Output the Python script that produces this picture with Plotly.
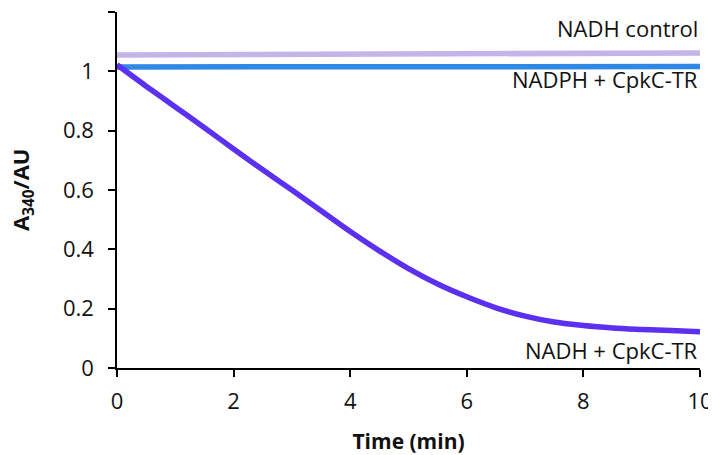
import plotly.graph_objects as go

# Data
time_min = [0, 0.5, 1, 1.5, 2, 2.5, 3, 3.5, 4, 4.5, 5, 5.5, 6, 6.5, 7, 7.5, 8, 8.5, 9, 9.5, 10]
nadh_cpkc = [1.022, 0.95, 0.88, 0.81, 0.738, 0.668, 0.6, 0.53, 0.46, 0.395, 0.335,
             0.283, 0.24, 0.203, 0.175, 0.155, 0.143, 0.135, 0.13, 0.126, 0.122]
control_x = [0, 10]
nadh_control = [1.055, 1.062]
nadph_cpkc = [1.015, 1.016]

x_ticks = [0, 2, 4, 6, 8, 10]
y_ticks = [0, 0.2, 0.4, 0.6, 0.8, 1.0, 1.2]
y_tick_text = ["0", "0.2", "0.4", "0.6", "0.8", "1", "1.2"]

labels = ["NADH control", "NADPH + CpkC-TR", "NADH + CpkC-TR"]
label_y = [1.145, 0.975, 0.06]

FONT = "Open Sans"

fig = go.Figure()
fig.add_trace(go.Scatter(x=control_x, y=nadh_control, mode="lines",
                         line=dict(color="#c4b4e8", width=5.5), showlegend=False))
fig.add_trace(go.Scatter(x=control_x, y=nadph_cpkc, mode="lines",
                         line=dict(color="#2f88e4", width=5.5), showlegend=False))
fig.add_trace(go.Scatter(x=time_min, y=nadh_cpkc, mode="lines",
                         line=dict(color="#5b30ee", width=5.5, shape="spline"),
                         showlegend=False))

for txt, yy in zip(labels, label_y):
    fig.add_annotation(x=10, y=yy, xref="x", yref="y", text=txt, showarrow=False,
                       xanchor="right", yanchor="middle",
                       font=dict(family=FONT, size=22, color="#111111"))

# y-axis title placed left of the tick labels
fig.add_annotation(x=0, y=0.5, xref="paper", yref="paper", xshift=-95,
                   text="<b>A<sub>340</sub>/AU</b>", textangle=-90, showarrow=False,
                   xanchor="center", yanchor="middle",
                   font=dict(family=FONT, size=22, color="#111111"))

# page body has an 8px margin, so the figure is 8px smaller and shifted
fig.update_layout(
    width=708, height=447,
    margin=dict(l=109, r=16, t=4, b=87),
    paper_bgcolor="white", plot_bgcolor="white",
    font=dict(family=FONT, size=22, color="#111111"),
)
fig.update_xaxes(
    range=[0, 10], tickvals=x_ticks, ticks="outside", ticklen=7, tickwidth=1.5,
    tickcolor="black", showline=True, linecolor="black", linewidth=1.5,
    showgrid=False, zeroline=False, ticklabelstandoff=6, automargin=False,
    title=dict(text="<b>Time (min)</b>", font=dict(family=FONT, size=21), standoff=20),
)
fig.update_yaxes(
    range=[0, 1.2], tickvals=y_ticks, ticktext=y_tick_text, ticks="outside", ticklen=7,
    tickwidth=1.5, tickcolor="black", showline=True, linecolor="black", linewidth=1.5,
    showgrid=False, zeroline=False, automargin=False, ticklabelstandoff=10,
)

fig.write_html("out.html")
